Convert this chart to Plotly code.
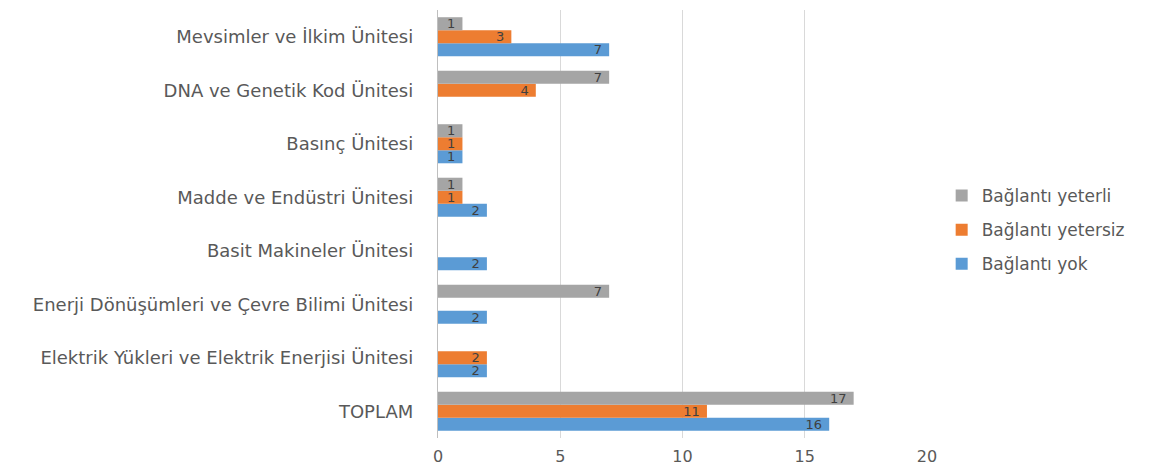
import plotly.graph_objects as go

categories = [
    "TOPLAM",
    "Elektrik Yükleri ve Elektrik Enerjisi Ünitesi",
    "Enerji Dönüşümleri ve Çevre Bilimi Ünitesi",
    "Basit Makineler Ünitesi",
    "Madde ve Endüstri Ünitesi",
    "Basınç Ünitesi",
    "DNA ve Genetik Kod Ünitesi",
    "Mevsimler ve İlkim Ünitesi",
]
baglanti_yok = [16, 2, 2, 2, 2, 1, None, 7]
baglanti_yetersiz = [11, 2, None, None, 1, 1, 4, 3]
baglanti_yeterli = [17, None, 7, None, 1, 1, 7, 1]

series = [
    ("Bağlantı yok", baglanti_yok, "#5B9BD5", 3),
    ("Bağlantı yetersiz", baglanti_yetersiz, "#ED7D31", 2),
    ("Bağlantı yeterli", baglanti_yeterli, "#A5A5A5", 1),
]

FONT = "DejaVu Sans"
fig = go.Figure()
for name, vals, color, rank in series:
    fig.add_trace(go.Bar(
        y=categories, x=vals, name=name, orientation="h",
        legendgroup=name, legendrank=rank,
        marker=dict(color=color, line=dict(width=0)),
        text=[("" if v is None else str(v) + "\u00a0") for v in vals],
        textposition="inside", insidetextanchor="end", textangle=0,
        constraintext="none",
        textfont=dict(family=FONT, size=13, color="#404040"),
        cliponaxis=False,
    ))

fig.update_layout(
    width=1149, height=468,
    margin=dict(l=438, r=222, t=10, b=30),
    barmode="group", bargap=0.27, bargroupgap=0,
    plot_bgcolor="white", paper_bgcolor="white",
    font=dict(family=FONT, size=16, color="#595959"),
    legend=dict(x=1.03, y=0.486, xanchor="left", yanchor="middle",
                traceorder="grouped", font=dict(size=17, color="#595959"),
                itemwidth=30, tracegroupgap=9),
    xaxis=dict(range=[0, 20], dtick=5, showgrid=True, gridcolor="#D9D9D9",
               gridwidth=1.3, zeroline=False, showline=False,
               ticks="outside", ticklen=4, tickcolor="rgba(0,0,0,0)",
               automargin=False,
               tickfont=dict(size=16, color="#595959"), fixedrange=True),
    yaxis=dict(showline=True, linecolor="#BFBFBF", linewidth=1.3,
               ticks="outside", ticklen=20, tickcolor="rgba(0,0,0,0)",
               automargin=False,
               tickfont=dict(size=18, color="#595959"),
               fixedrange=True),
)

fig.write_html("out.html")
